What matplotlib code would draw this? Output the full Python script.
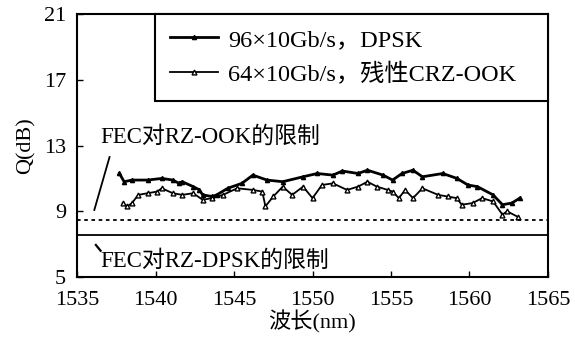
import matplotlib
matplotlib.use("Agg")
import matplotlib.pyplot as plt

plt.rcParams['font.family'] = ['Liberation Serif', 'Noto Sans CJK SC']
plt.rcParams['font.size'] = 16

# 96x10Gb/s DPSK (实心三角)
dpsk_x = [1537.7, 1538.0, 1538.5, 1539.5, 1540.4, 1541.1, 1541.5, 1541.7, 1542.4, 1542.8,
          1543.0, 1543.6, 1543.9, 1544.6, 1545.5, 1546.2, 1547.1, 1548.1, 1549.4, 1550.3,
          1551.3, 1551.9, 1552.9, 1553.5, 1554.5, 1555.1, 1555.7, 1556.4, 1557.0, 1558.3,
          1559.2, 1559.9, 1560.5, 1561.5, 1562.1, 1562.7, 1563.2]
dpsk_q = [11.3, 10.8, 10.9, 10.9, 11.0, 10.9, 10.7, 10.8, 10.5, 10.3,
          10.0, 9.9, 10.0, 10.4, 10.7, 11.2, 10.9, 10.8, 11.1, 11.3,
          11.2, 11.45, 11.3, 11.5, 11.2, 10.9, 11.3, 11.5, 11.1, 11.3,
          11.0, 10.6, 10.5, 10.0, 9.4, 9.5, 9.8]

# 64x10Gb/s 残性CRZ-OOK (空心三角)
ook_x = [1537.9, 1538.2, 1538.5, 1538.9, 1539.5, 1540.1, 1540.4, 1541.1, 1541.7, 1542.4,
         1543.0, 1543.6, 1544.3, 1545.2, 1546.2, 1546.8, 1547.0, 1547.5, 1548.1, 1548.7,
         1549.4, 1550.0, 1550.6, 1551.3, 1552.2, 1552.9, 1553.5, 1554.1, 1554.8, 1555.1,
         1555.5, 1555.9, 1556.4, 1557.0, 1558.0, 1558.6, 1559.2, 1559.5, 1560.2, 1560.8,
         1561.5, 1562.1, 1562.4, 1563.1]
ook_q = [9.5, 9.3, 9.5, 10.0, 10.1, 10.2, 10.4, 10.1, 10.0, 10.1,
         9.7, 9.8, 10.0, 10.4, 10.3, 10.2, 9.3, 9.9, 10.5, 10.0,
         10.5, 9.8, 10.6, 10.7, 10.3, 10.5, 10.8, 10.5, 10.3, 10.2,
         9.8, 10.3, 9.8, 10.4, 10.0, 9.9, 9.8, 9.4, 9.5, 9.8,
         9.6, 8.8, 9.0, 8.65]

fec_ook = 8.5
fec_dpsk = 7.55

fig = plt.figure(figsize=(5.75, 3.52), dpi=100)
ax = fig.add_axes([0.134, 0.213, 0.819, 0.747])

ax.plot(dpsk_x, dpsk_q, color='black', linewidth=2.0, marker='^', markersize=3,
        markerfacecolor='black', label="96×10Gb/s，DPSK")
ax.plot(ook_x, ook_q, color='black', linewidth=1.3, marker='^', markersize=3.5,
        markerfacecolor='white', label="64×10Gb/s，残性CRZ-OOK")

ax.axhline(fec_ook, color='black', linewidth=1.3, linestyle=(0, (2, 2)))
ax.axhline(fec_dpsk, color='black', linewidth=1.3)

ax.text(1536.5, 13.5, "FEC对RZ-OOK的限制", fontsize=16.5, va='center')
ax.plot([1536.1, 1537.07], [9.08, 12.3], color='black', linewidth=1.3)
ax.text(1536.5, 6.0, "FEC对RZ-DPSK的限制", fontsize=16.5, va='center')
ax.plot([1536.2, 1536.5], [6.95, 6.6], color='black', linewidth=1.6)

ax.set_xlim(1535, 1565)
ax.set_ylim(5, 21)
ax.set_xticks([1535, 1540, 1545, 1550, 1555, 1560, 1565])
ax.set_yticks([5, 9, 13, 17, 21])
ax.tick_params(direction='in', length=4, width=1)
ax.tick_params(axis='x', pad=10)
ax.tick_params(axis='y', pad=8)
for sp in ax.spines.values():
    sp.set_linewidth(1.5)

ax.set_ylabel("Q(dB)", labelpad=6)
ax.set_xlabel("波长(nm)", labelpad=0)

leg = ax.legend(loc='upper left', bbox_to_anchor=(0.166, 1.0, 0.834, 0.0), mode='expand',
                borderaxespad=0, fancybox=False, edgecolor='black', framealpha=1,
                handlelength=2.0, handletextpad=0.4, labelspacing=0.5, borderpad=0.6,
                fontsize=17.5)
leg.get_frame().set_linewidth(1.5)

fig.savefig("out.png", dpi=100)
